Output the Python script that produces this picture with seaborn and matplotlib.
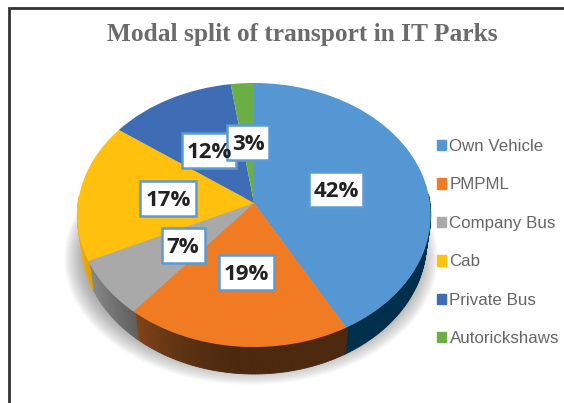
import numpy as np
import seaborn as sns
import matplotlib.pyplot as plt
from matplotlib.patches import Ellipse, Patch, Rectangle
from matplotlib.path import Path
from matplotlib.transforms import Transform

categories = ['Own Vehicle', 'PMPML', 'Company Bus', 'Cab', 'Private Bus', 'Autorickshaws']
# slice sizes as drawn, the printed labels are rounded
shares = [42, 19, 7, 17, 12.7, 2.3]
share_labels = ['42%', '19%', '7%', '17%', '12%', '3%']
colors = ['#5497D3', '#F17B22', '#A9A9A9', '#FFC10E', '#3F6DB5', '#6BAE45']
wall_colors = ['#002F4C', '#4B280E', '#383838', '#5A4105', '#24406E', '#3A6426']
title = 'Modal split of transport in IT Parks'

W, H = 564, 403
# centre of the pie in pixels, everything else is an offset from it
CX, CY = 254, 203
DEPTH = 27
# where the data labels sit (pixels)
label_pos = [(336, 189), (246, 272), (183, 245), (168, 198), (209, 150), (248, 142)]
box_size = [(54, 35), (55, 35), (43, 35), (56, 35), (54, 35), (42, 35)]


class Tilt(Transform):
    # fake 3D tilt: unit circle to a perspective ellipse, in pixels
    input_dims = 2
    output_dims = 2
    k, a, b = 0.0909, 130.9, 176.0

    def transform_non_affine(self, values):
        v = np.asarray(values, dtype=float)
        d = 1 + self.k * v[:, 1]
        return np.column_stack([self.b * v[:, 0] / d, self.a * v[:, 1] / d])

    def transform_path_non_affine(self, path):
        return Path(self.transform_non_affine(path.vertices), path.codes)


sns.set_theme(style='white')
fig = plt.figure(figsize=(W / 100, H / 100), dpi=100)
ax = fig.add_axes([0, 0, 1, 1])

wedges, _ = ax.pie(shares, colors=colors, startangle=90, counterclock=False, radius=1, normalize=True)
tilt = Tilt()
ax.set_aspect('auto')
ax.set_xlim(-CX, W - CX)
ax.set_ylim(CY - H, CY)
ax.axis('off')

# soft shadow under the disc
clip = Rectangle((-CX, CY - 386), W, 386 - 198, transform=ax.transData)
for i in range(20):
    sh = Ellipse((-3, -55), 2 * (187 - i), 2 * (127 - i), fc='#555555', ec='none', alpha=0.028, zorder=0)
    ax.add_patch(sh)
    sh.set_clip_path(clip)

# side wall, lighter towards the left, the bottom rim is a bit narrower so it dies out at the sides
for w, c in zip(wedges, wall_colors):
    w.set_transform(tilt + ax.transData)
    w.set_edgecolor('none')
    w.set_zorder(3)
    rgb = np.array(plt.matplotlib.colors.to_rgb(c))
    th = np.radians(np.arange(w.theta1, w.theta2 + 1, 1.0))
    for a0, a1 in zip(th[:-1], th[1:]):
        if np.sin(a0) > 0.05 and np.sin(a1) > 0.05:
            continue
        p = tilt.transform_non_affine(np.array([[np.cos(a0), np.sin(a0)], [np.cos(a1), np.sin(a1)]]))
        f = 1 + 1.8 * max(0, -np.cos(a0)) ** 2
        col = np.clip(rgb * f, 0, 1)
        ax.fill([p[0, 0], p[1, 0], p[1, 0] * 0.976, p[0, 0] * 0.976],
                [p[0, 1], p[1, 1], p[1, 1] - DEPTH, p[0, 1] - DEPTH],
                color=col, lw=0.6, zorder=2)

# data labels
for txt, (x, y), (bw, bh) in zip(share_labels, label_pos, box_size):
    ax.add_patch(Rectangle((x - bw / 2 - CX, CY - y - bh / 2), bw, bh, fc='white', ec='#5B9BD5', lw=1.8, zorder=4))
    ax.text(x - CX, CY - y, txt, ha='center', va='center_baseline', fontsize=16, fontweight='bold',
            family='Open Sans', color='#222222', zorder=5)

# frame lines on top and left only
ax.plot([9 - CX, 9 - CX, W - CX], [CY - H, CY - 8, CY - 8], color='#333333', lw=2, zorder=6, solid_joinstyle='miter')

fig.text(302 / W, 1 - 35 / H, title, ha='center', va='center', family='Liberation Serif', fontweight='bold',
         fontsize=18.3, color='#6B6B6B')

handles = [Patch(color=c) for c in colors]
ax.legend(handles, categories, loc='upper left', bbox_to_anchor=(437 / W, 1 - 139 / H), bbox_transform=fig.transFigure,
          frameon=False, prop={'family': 'Liberation Sans', 'size': 12.15}, labelcolor='#666666',
          handlelength=0.56, handleheight=0.56, handletextpad=0.18, labelspacing=1.39, borderpad=0, borderaxespad=0)

fig.savefig('out.png', dpi=100)
